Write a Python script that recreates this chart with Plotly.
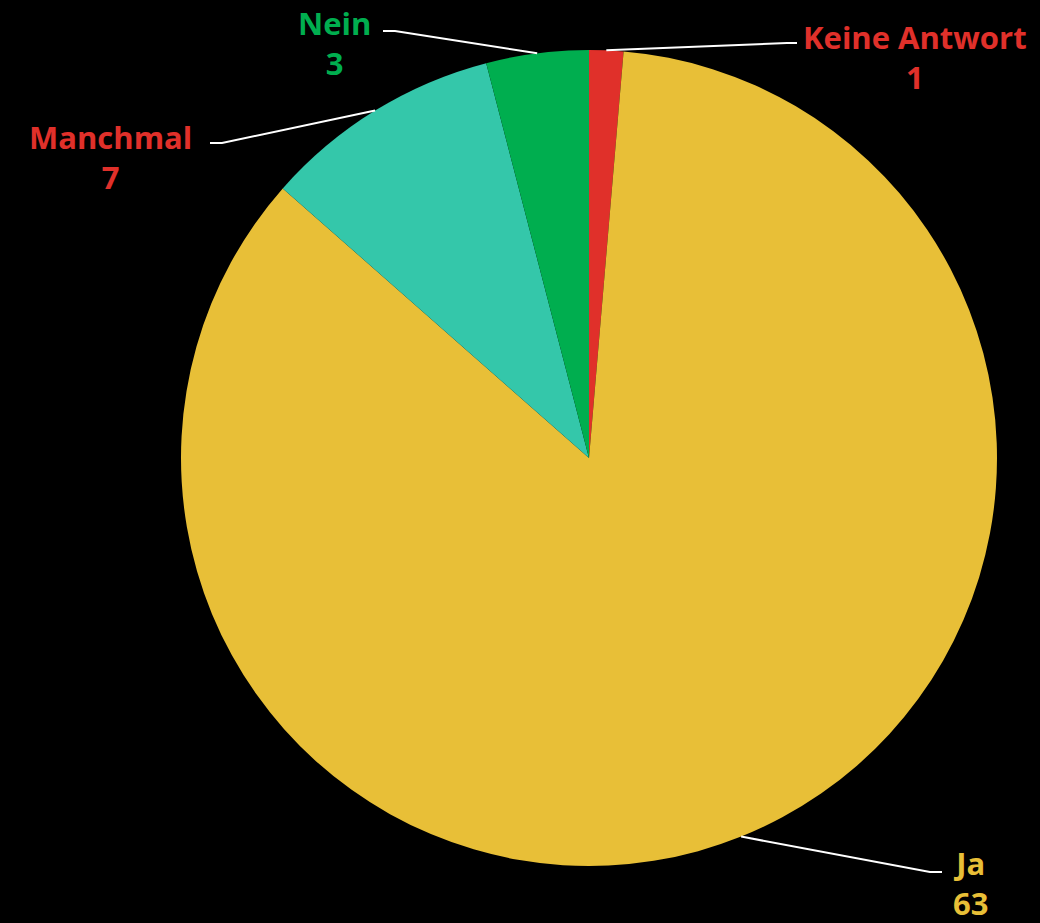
import math
import plotly.graph_objects as go

# ---- data ----
labels = ["Keine Antwort", "Ja", "Manchmal", "Nein"]
values = [1, 63, 7, 3]
slice_colors = ["#E0302A", "#E8BF37", "#34C7AA", "#00AE4F"]
label_colors = ["#E0302A", "#E8BF37", "#E0302A", "#00AE4F"]

# ---- layout (pixels) ----
W, H = 1040, 923
CX, CY, R = 589, 458, 408
# label block centre and leader elbow / end (pixels)
label_pos = {
    "Keine Antwort": dict(text=(915, 57), elbow=(787, 43), end=(797, 43)),
    "Ja": dict(text=(970, 883), elbow=(930, 872), end=(942, 872)),
    "Manchmal": dict(text=(110, 157), elbow=(222, 143), end=(210, 143)),
    "Nein": dict(text=(334, 43), elbow=(395, 31), end=(383, 31)),
}

def px(x):
    return x / W

def py(y):
    return 1 - y / H

fig = go.Figure(go.Pie(
    labels=labels, values=values, sort=False, direction="clockwise", rotation=0,
    marker=dict(colors=slice_colors, line=dict(width=0)),
    textinfo="none", hoverinfo="label+value", showlegend=False,
    domain=dict(x=[px(CX - R), px(CX + R)], y=[py(CY + R), py(CY - R)]),
))

total = sum(values)
cum = 0
shapes, annotations = [], []
font_family = "'Open Sans', Lato, sans-serif"
for lab, val, col in zip(labels, values, label_colors):
    mid = (cum + val / 2) / total * 2 * math.pi
    cum += val
    sx = CX + R * math.sin(mid)
    sy = CY - R * math.cos(mid)
    p = label_pos[lab]
    ex, ey = p["elbow"]
    fx, fy = p["end"]
    path = f"M {px(sx)},{py(sy)} L {px(ex)},{py(ey)} L {px(fx)},{py(fy)}"
    shapes.append(dict(type="path", xref="paper", yref="paper", path=path,
                       line=dict(color="white", width=2)))
    tx, ty = p["text"]
    annotations.append(dict(x=px(tx), y=py(ty), xref="paper", yref="paper",
                            text=f"<b>{lab}<br>{val}</b>", showarrow=False,
                            xanchor="center", yanchor="middle", align="center",
                            font=dict(family=font_family, size=31, color=col)))

fig.update_layout(
    width=W, height=H, margin=dict(l=0, r=0, t=0, b=0),
    paper_bgcolor="black", plot_bgcolor="black",
    shapes=shapes, annotations=annotations,
)
fig.write_html(
    "out.html",
    config={"displayModeBar": False},
    post_script="document.body.style.margin='0';document.body.style.background='black';",
)
